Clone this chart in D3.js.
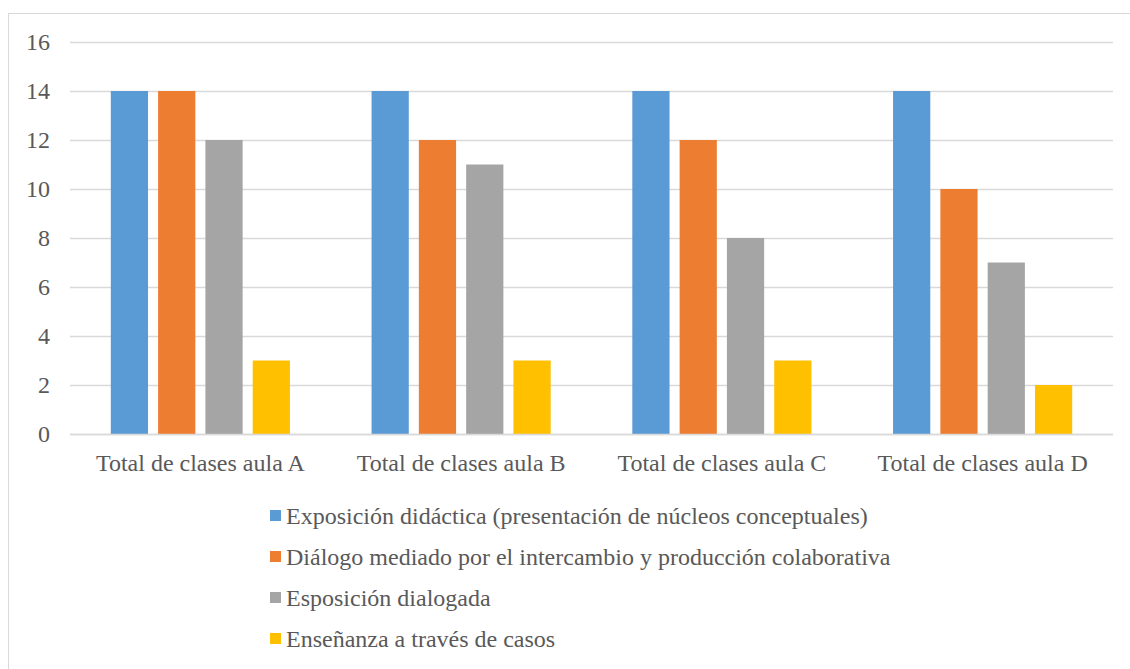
<!DOCTYPE html>
<html>
<head>
<meta charset="utf-8">
<script src="https://cdn.jsdelivr.net/npm/d3@7"></script>
<style>
  body { margin: 0; background: #fff; }
</style>
</head>
<body>
<div id="chart"></div>
<script>
const categories = ["Total de clases aula A", "Total de clases aula B", "Total de clases aula C", "Total de clases aula D"];
const seriesNames = [
  "Exposición didáctica (presentación de núcleos conceptuales)",
  "Diálogo mediado por el intercambio y producción colaborativa",
  "Esposición dialogada",
  "Enseñanza a través de casos",
];
const exposicion = [14, 14, 14, 14];
const dialogo = [14, 12, 12, 10];
const esposicion = [12, 11, 8, 7];
const casos = [3, 3, 3, 2];
const yTicks = [0, 2, 4, 6, 8, 10, 12, 14, 16];
const seriesColors = ["#5B9BD5", "#ED7D31", "#A5A5A5", "#FFC000"];

const seriesValues = [exposicion, dialogo, esposicion, casos];
const width = 1130, height = 669;
const plot = { left: 70, right: 1113, top: 42, bottom: 434 };
const font = '"Liberation Serif"';

const svg = d3.select("#chart").append("svg")
  .attr("width", width).attr("height", height);

// chart frame (runs off the right and bottom of the picture)
svg.append("rect")
  .attr("x", 8.5).attr("y", 13.5)
  .attr("width", 1140).attr("height", 680)
  .attr("fill", "none").attr("stroke", "#D9D9D9").attr("stroke-width", 1);

const y = d3.scaleLinear().domain([0, 16]).range([plot.bottom, plot.top]);
const x0 = d3.scaleBand().domain(categories)
  .range([plot.left, plot.right]).paddingInner(0.313).paddingOuter(0.1565);
const x1 = d3.scaleBand().domain(d3.range(seriesNames.length))
  .range([0, x0.bandwidth()]).paddingInner(0.213);

// gridlines
svg.append("g").selectAll("line").data(yTicks).join("line")
  .attr("x1", plot.left).attr("x2", plot.right)
  .attr("y1", d => Math.round(y(d)) + 0.5).attr("y2", d => Math.round(y(d)) + 0.5)
  .attr("stroke", "#D9D9D9").attr("stroke-width", 1.5);

// y tick labels
svg.append("g").selectAll("text").data(yTicks).join("text")
  .attr("x", 50).attr("y", d => y(d))
  .attr("dy", "0.33em").attr("text-anchor", "end")
  .style("font-family", font).style("font-size", "24px").style("fill", "#595959")
  .text(d => d);

// bars
const groups = svg.append("g").selectAll("g").data(categories).join("g")
  .attr("transform", d => `translate(${x0(d)},0)`);
groups.selectAll("rect")
  .data((c, ci) => seriesValues.map((vals, si) => ({ si, v: vals[ci] })))
  .join("rect")
  .attr("x", d => x1(d.si)).attr("width", x1.bandwidth())
  .attr("y", d => y(d.v)).attr("height", d => y(0) - y(d.v))
  .attr("fill", d => seriesColors[d.si]);

// baseline over bars
svg.append("line")
  .attr("x1", plot.left).attr("x2", plot.right)
  .attr("y1", y(0) + 0.5).attr("y2", y(0) + 0.5)
  .attr("stroke", "#D9D9D9").attr("stroke-width", 1.5);

// category labels
svg.append("g").selectAll("text").data(categories).join("text")
  .attr("x", d => x0(d) + x0.bandwidth() / 2).attr("y", 463)
  .attr("dy", "0.33em").attr("text-anchor", "middle")
  .style("font-family", font).style("font-size", "24px").style("fill", "#595959")
  .text(d => d);

// legend
const legend = svg.append("g").selectAll("g").data(seriesNames).join("g")
  .attr("transform", (d, i) => `translate(270,${516 + i * 41})`);
legend.append("rect")
  .attr("x", 0).attr("y", -6).attr("width", 11).attr("height", 11)
  .attr("fill", (d, i) => seriesColors[i]);
legend.append("text")
  .attr("x", 16).attr("y", 0).attr("dy", "0.33em")
  .style("font-family", font).style("font-size", "24px").style("fill", "#595959")
  .text(d => d);
</script>
</body>
</html>
